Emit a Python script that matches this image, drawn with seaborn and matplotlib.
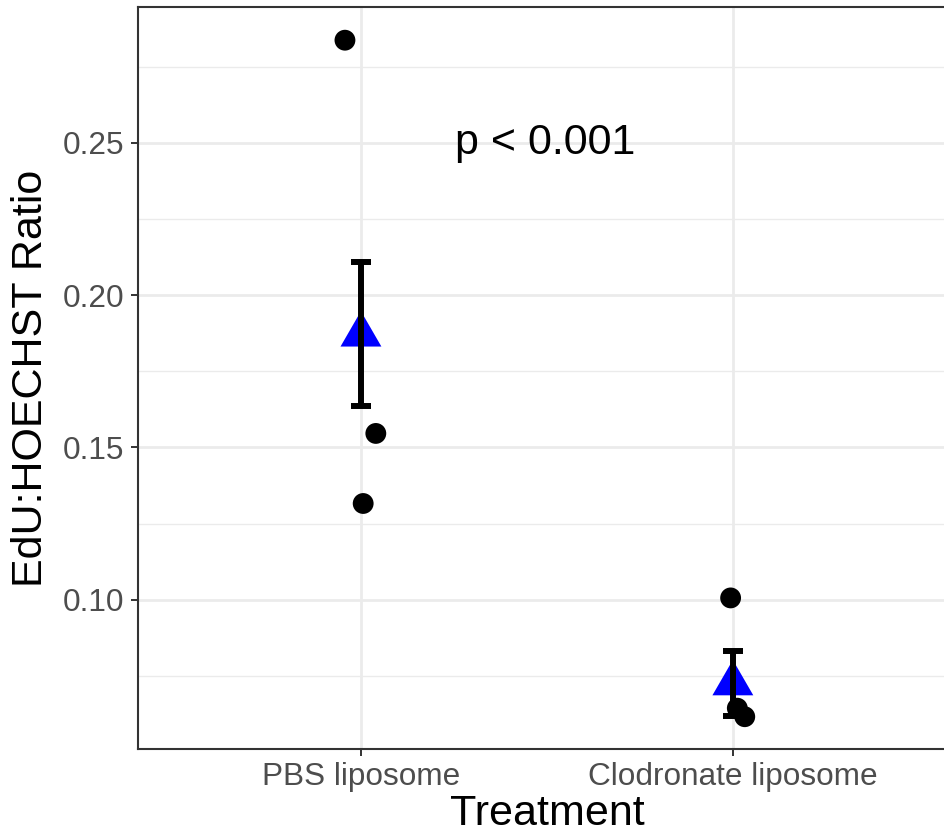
import matplotlib
matplotlib.use("Agg")
import matplotlib.pyplot as plt
import seaborn as sns
import pandas as pd
import numpy as np

# ---- data ----
categories = ["PBS liposome", "Clodronate liposome"]
point_group = ["PBS liposome", "PBS liposome", "PBS liposome",
               "Clodronate liposome", "Clodronate liposome", "Clodronate liposome"]
point_values = [0.2837, 0.1546, 0.1316, 0.1006, 0.0644, 0.0616]
point_jitter = [-0.043, 0.040, 0.006, -0.006, 0.012, 0.032]
mean_values = [0.187, 0.0725]
err_low = [0.1636, 0.0619]
err_high = [0.2108, 0.0831]
yticks = [0.10, 0.15, 0.20, 0.25]
ytick_labels = ["0.10", "0.15", "0.20", "0.25"]
annotation = "p < 0.001"
x_title = "Treatment"
y_title = "EdU:HOECHST Ratio"

sns.set_theme(style="white")
plt.rcParams["font.family"] = ["Liberation Sans", "DejaVu Sans"]

W, H, DPI = 945, 835, 100
fig = plt.figure(figsize=(W / DPI, H / DPI), dpi=DPI)
left, right, top, bottom = 137.8, 956.0, 7.0, 749.0
ax = fig.add_axes([left / W, 1 - bottom / H, (right - left) / W, (bottom - top) / H])

cat_pos = {c: i + 1 for i, c in enumerate(categories)}
pts = pd.DataFrame({
    "group": point_group,
    "value": point_values,
})
pts["x"] = [cat_pos[g] + j for g, j in zip(point_group, point_jitter)]
means = pd.DataFrame({"group": categories, "mean": mean_values,
                      "lo": err_low, "hi": err_high})
means["x"] = [cat_pos[c] for c in categories]

# grid
ax.set_axisbelow(True)
for yv in yticks:
    ax.axhline(yv, color="#EBEBEB", lw=2.0, zorder=0)
for yv in [0.075, 0.125, 0.175, 0.225, 0.275]:
    ax.axhline(yv, color="#EBEBEB", lw=1.0, zorder=0)
for xv in means["x"]:
    ax.axvline(xv, color="#EBEBEB", lw=2.0, zorder=0)

# jittered points
sns.scatterplot(data=pts, x="x", y="value", ax=ax, color="black", s=225,
                edgecolor="none", linewidth=0, zorder=3, legend=False)

# mean triangles (equilateral, centred on centroid like R pch 17)
tri = [(0, 0.5774), (-0.5, -0.2887), (0.5, -0.2887)]
sns.scatterplot(data=means, x="x", y="mean", ax=ax, color="#0000FF",
                marker=tri, s=34 ** 2, edgecolor="none", linewidth=0,
                zorder=4, legend=False)

# error bars
ax.errorbar(means["x"], means["mean"],
            yerr=[means["mean"] - means["lo"], means["hi"] - means["mean"]],
            fmt="none", ecolor="black", elinewidth=4.3, capsize=7,
            capthick=4.3, zorder=5)

ax.text(1.495, 0.2462, annotation, ha="center", va="baseline",
        fontsize=31, color="black", zorder=6)

ax.set_xlim(0.4, 2.6)
ax.set_ylim(0.0510, 0.2946)
ax.set_xticks([1, 2])
ax.set_xticklabels(categories)
ax.set_yticks(yticks)
ax.set_yticklabels(ytick_labels)
ax.tick_params(axis="both", which="major", length=5, width=1.4, color="#333333",
               labelcolor="#4D4D4D", labelsize=22.7, direction="out",
               left=True, bottom=True)
ax.tick_params(axis="y", pad=5)
ax.tick_params(axis="x", pad=4)
ax.set_xlabel(x_title, fontsize=31, color="black", labelpad=2)
ax.set_ylabel(y_title, fontsize=31, color="black", labelpad=8)
for s in ax.spines.values():
    s.set_color("#333333")
    s.set_linewidth(1.5)
    s.set_visible(True)
ax.grid(False)

fig.savefig("out.png", dpi=DPI)
